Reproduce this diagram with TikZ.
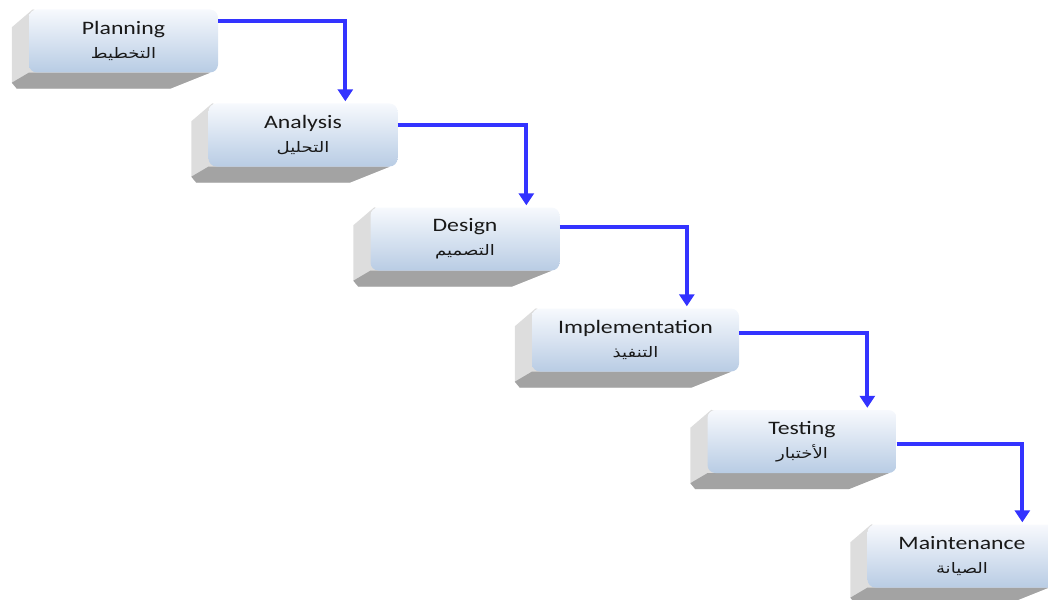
\documentclass[tikz,border=0pt]{standalone}
\usepackage{fontspec}
\usepackage{graphicx}
\setmainfont{Carlito}
\newfontfamily\arabicfont[Script=Arabic]{DejaVu Sans}
\TeXXeTstate=1
\usetikzlibrary{arrows.meta,backgrounds}
\definecolor{flowblue}{RGB}{51,51,255}
\definecolor{facetop}{RGB}{247,249,253}
\definecolor{facebot}{RGB}{184,204,228}
\newcommand\stretchtxt[1]{\scalebox{1.25}[1]{#1}}
\newcommand\arab[1]{{\arabicfont\fontsize{14.5}{16}\selectfont\stretchtxt{\beginR #1\endR}}}
\tikzset{
  phase/.style={rounded corners=8pt, top color=facetop, bottom color=facebot,
    minimum width=189pt, minimum height=63pt, inner sep=0pt, align=center,
    font=\fontsize{19}{22}\selectfont, text=black!90},
  flow/.style={flowblue, line width=4pt, -{Triangle[width=15pt,length=12pt]}},
  sideface/.style={fill=gray!27},
  bottomface/.style={fill=gray!72}
}
\begin{document}
\begin{tikzpicture}[x=1pt,y=-1pt]
  \useasboundingbox (0,0) rectangle (1048,599);
  % phases
  \node[phase] (plan) at (123.5,41) {\stretchtxt{Planning}\\[2pt]\arab{التخطيط}};
  \node[phase] (anal) at (303,135) {\stretchtxt{Analysis}\\[2pt]\arab{التحليل}};
  \node[phase] (desg) at (465,239) {\stretchtxt{Design}\\[2pt]\arab{التصميم}};
  \node[phase, minimum width=207pt] (impl) at (635.5,340) {\stretchtxt{Implementation}\\[2pt]\arab{التنفيذ}};
  \node[phase] (test) at (802,441.5) {\stretchtxt{Testing}\\[2pt]\arab{الأختبار}};
  \node[phase] (main) at (962,556) {\stretchtxt{Maintenance}\\[2pt]\arab{الصيانة}};
  % 3d slabs behind the faces
  \begin{scope}[on background layer]
    \foreach \n in {plan,anal,desg,impl,test,main} {
      \fill[sideface] ([shift={(4,0)}]\n.north west) -- ([shift={(-17,18)}]\n.north west)
        -- ([shift={(-17,10)}]\n.south west) -- ([shift={(-12,16)}]\n.south west)
        -- ([shift={(-48,16)}]\n.south east) -- ([shift={(-8,0)}]\n.south east) -- cycle;
      \fill[bottomface] (\n.south west) -- ([shift={(-17,10)}]\n.south west)
        -- ([shift={(-12,16)}]\n.south west) -- ([shift={(-48,16)}]\n.south east)
        -- ([shift={(-8,0)}]\n.south east) -- cycle;
    }
  \end{scope}
  % flow
  \draw[flow] ([shift={(0,12)}]plan.north east) -| ([shift={(137,-2)}]anal.north west);
  \draw[flow] ([shift={(0,22)}]anal.north east) -| ([shift={(156,-2)}]desg.north west);
  \draw[flow] ([shift={(0,20)}]desg.north east) -| ([shift={(155,-2)}]impl.north west);
  \draw[flow] ([shift={(0,25)}]impl.north east) -| ([shift={(160,-2)}]test.north west);
  \draw[flow] ([shift={(0,34)}]test.north east) -| ([shift={(155,-2)}]main.north west);
\end{tikzpicture}
\end{document}
